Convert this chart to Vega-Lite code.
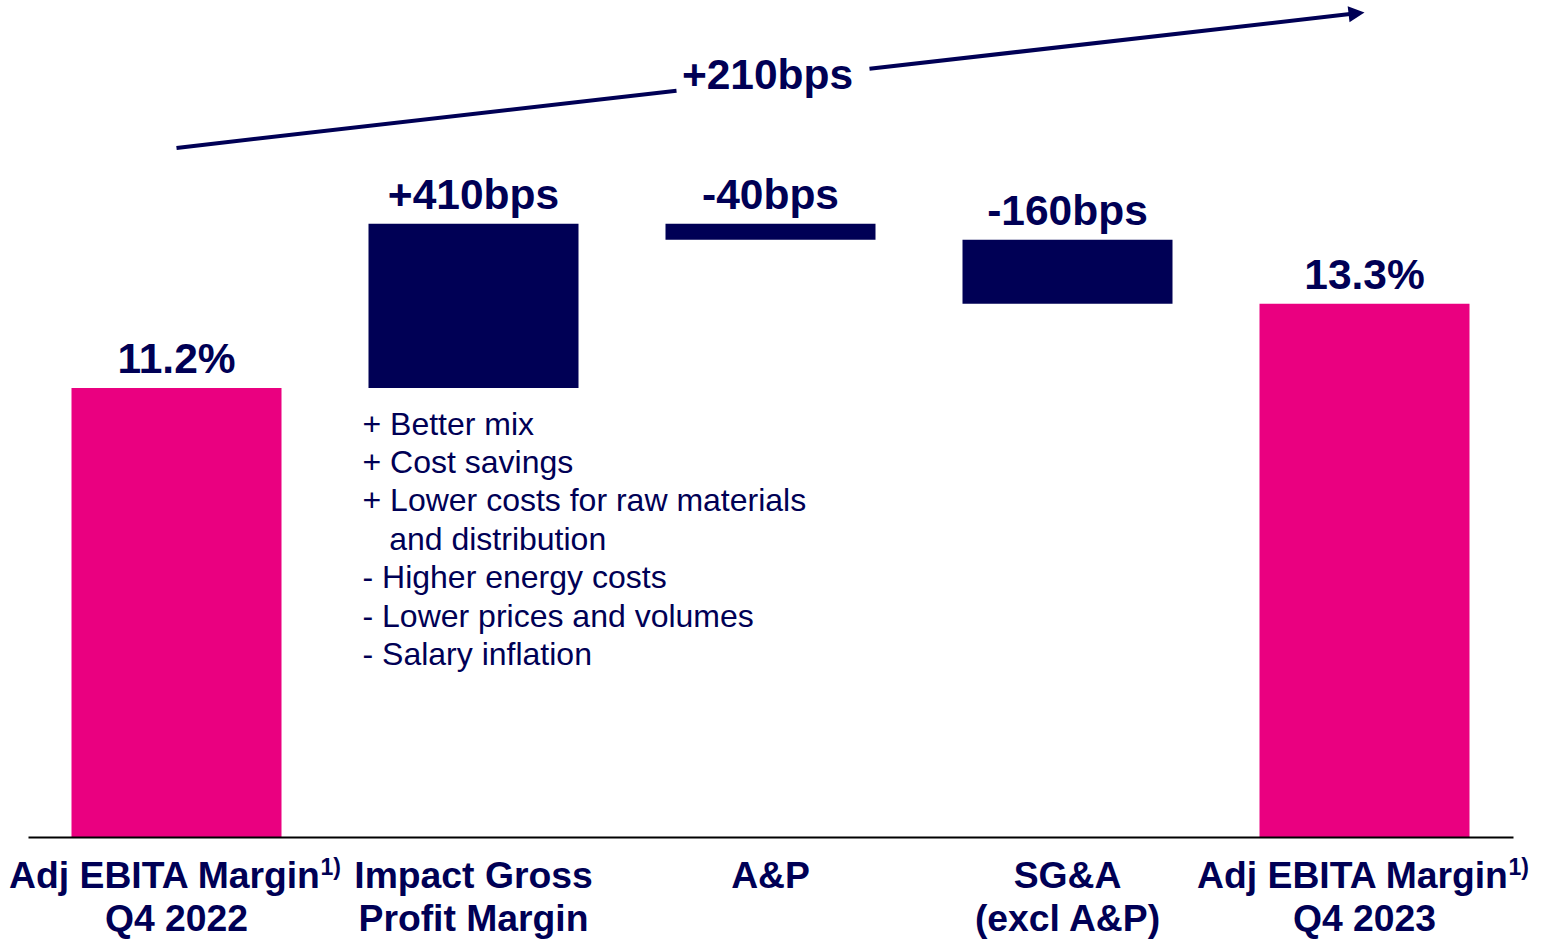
{
  "$schema": "https://vega.github.io/schema/vega-lite/v6.json",
  "width": 1485,
  "height": 837,
  "autosize": {"type": "none"},
  "padding": {"left": 28, "top": 0, "right": 29, "bottom": 103},
  "background": "white",
  "config": {
    "view": {"stroke": null},
    "text": {"font": "Liberation Sans", "color": "#000055"}
  },
  "datasets": {
    "steps": [
      {"index": 0, "step": "Adj EBITA Margin Q4 2022", "kind": "total", "start": 0, "end": 11.2, "label": "11.2%", "line1": "Adj EBITA Margin", "line2": "Q4 2022", "sup": "1)"},
      {"index": 1, "step": "Impact Gross Profit Margin", "kind": "change", "start": 11.2, "end": 15.3, "label": "+410bps", "line1": "Impact Gross", "line2": "Profit Margin",
       "notes": ["+ Better mix", "+ Cost savings", "+ Lower costs for raw materials", "\u200B\u00a0\u00a0\u00a0and distribution", "- Higher energy costs", "- Lower prices and volumes", "- Salary inflation"]},
      {"index": 2, "step": "A&P", "kind": "change", "start": 15.3, "end": 14.9, "label": "-40bps", "line1": "A&P", "line2": ""},
      {"index": 3, "step": "SG&A (excl A&P)", "kind": "change", "start": 14.9, "end": 13.3, "label": "-160bps", "line1": "SG&A", "line2": "(excl A&P)"},
      {"index": 4, "step": "Adj EBITA Margin Q4 2023", "kind": "total", "start": 0, "end": 13.3, "label": "13.3%", "line1": "Adj EBITA Margin", "line2": "Q4 2023", "sup": "1)"}
    ],
    "trend": [
      {"part": "segment", "x": 0, "y": 17.19, "x2": 1.6835, "y2": 18.614},
      {"part": "segment", "x": 2.3333, "y": 19.163, "x2": 3.9732, "y2": 20.549},
      {"part": "head", "x": 4.0, "y": 20.571},
      {"part": "label", "x": 1.99, "y": 18.65, "text": "+210bps"}
    ]
  },
  "layer": [
    {
      "data": {"name": "steps"},
      "mark": {"type": "bar", "width": 210},
      "encoding": {
        "x": {
          "field": "index",
          "type": "quantitative",
          "scale": {"domain": [-0.5, 4.5], "nice": false, "zero": false, "padding": 0},
          "axis": {"title": null, "labels": false, "ticks": false, "grid": false, "domain": true, "domainColor": "#000000", "domainWidth": 2, "zindex": 1}
        },
        "y": {"field": "start", "type": "quantitative", "scale": {"domain": [0, 20.88], "nice": false, "zero": true, "padding": 0}, "axis": null},
        "y2": {"field": "end"},
        "color": {"field": "kind", "type": "nominal", "scale": {"domain": ["total", "change"], "range": ["#EA0080", "#000055"]}, "legend": null}
      }
    },
    {
      "data": {"name": "steps"},
      "transform": [{"calculate": "max(datum.start, datum.end)", "as": "top"}],
      "mark": {"type": "text", "fontSize": 42.5, "fontWeight": "bold", "baseline": "alphabetic", "align": "center", "dy": -15},
      "encoding": {
        "x": {"field": "index", "type": "quantitative"},
        "y": {"field": "top", "type": "quantitative"},
        "text": {"field": "label", "type": "nominal"}
      }
    },
    {
      "data": {"name": "steps"},
      "transform": [{"filter": "isValid(datum.notes)"}],
      "mark": {"type": "text", "fontSize": 32, "align": "left", "baseline": "alphabetic", "lineHeight": 38.4, "dx": -111, "dy": 46.5},
      "encoding": {
        "x": {"field": "index", "type": "quantitative"},
        "y": {"field": "start", "type": "quantitative"},
        "text": {"field": "notes", "type": "nominal"}
      }
    },
    {
      "data": {"name": "steps"},
      "transform": [{"filter": "!isValid(datum.sup)"}],
      "mark": {"type": "text", "fontSize": 37.3, "fontWeight": "bold", "align": "center", "baseline": "alphabetic", "dy": 51},
      "encoding": {
        "x": {"field": "index", "type": "quantitative"},
        "y": {"datum": 0, "type": "quantitative"},
        "text": {"field": "line1", "type": "nominal"}
      }
    },
    {
      "data": {"name": "steps"},
      "transform": [{"filter": "isValid(datum.sup)"}],
      "mark": {"type": "text", "fontSize": 37.3, "fontWeight": "bold", "align": "center", "baseline": "alphabetic", "dx": -12, "dy": 51},
      "encoding": {
        "x": {"field": "index", "type": "quantitative"},
        "y": {"datum": 0, "type": "quantitative"},
        "text": {"field": "line1", "type": "nominal"}
      }
    },
    {
      "data": {"name": "steps"},
      "transform": [{"filter": "isValid(datum.sup)"}],
      "mark": {"type": "text", "fontSize": 23, "fontWeight": "bold", "align": "left", "baseline": "alphabetic", "dx": 144, "dy": 38},
      "encoding": {
        "x": {"field": "index", "type": "quantitative"},
        "y": {"datum": 0, "type": "quantitative"},
        "text": {"field": "sup", "type": "nominal"}
      }
    },
    {
      "data": {"name": "steps"},
      "transform": [{"filter": "datum.line2 !== ''"}],
      "mark": {"type": "text", "fontSize": 37.3, "fontWeight": "bold", "align": "center", "baseline": "alphabetic", "dy": 94},
      "encoding": {
        "x": {"field": "index", "type": "quantitative"},
        "y": {"datum": 0, "type": "quantitative"},
        "text": {"field": "line2", "type": "nominal"}
      }
    },
    {
      "data": {"name": "trend"},
      "transform": [{"filter": "datum.part === 'segment'"}],
      "mark": {"type": "rule", "strokeWidth": 4, "color": "#000055", "strokeCap": "butt"},
      "encoding": {
        "x": {"field": "x", "type": "quantitative"},
        "y": {"field": "y", "type": "quantitative"},
        "x2": {"field": "x2"},
        "y2": {"field": "y2"}
      }
    },
    {
      "data": {"name": "trend"},
      "transform": [{"filter": "datum.part === 'head'"}],
      "mark": {"type": "point", "shape": "M0,0L-2,-1L-2,1Z", "filled": true, "size": 256, "angle": -6.5, "opacity": 1, "color": "#000055", "strokeWidth": 0},
      "encoding": {
        "x": {"field": "x", "type": "quantitative"},
        "y": {"field": "y", "type": "quantitative"}
      }
    },
    {
      "data": {"name": "trend"},
      "transform": [{"filter": "datum.part === 'label'"}],
      "mark": {"type": "text", "fontSize": 42.5, "fontWeight": "bold", "align": "center", "baseline": "alphabetic"},
      "encoding": {
        "x": {"field": "x", "type": "quantitative"},
        "y": {"field": "y", "type": "quantitative"},
        "text": {"field": "text", "type": "nominal"}
      }
    }
  ]
}
